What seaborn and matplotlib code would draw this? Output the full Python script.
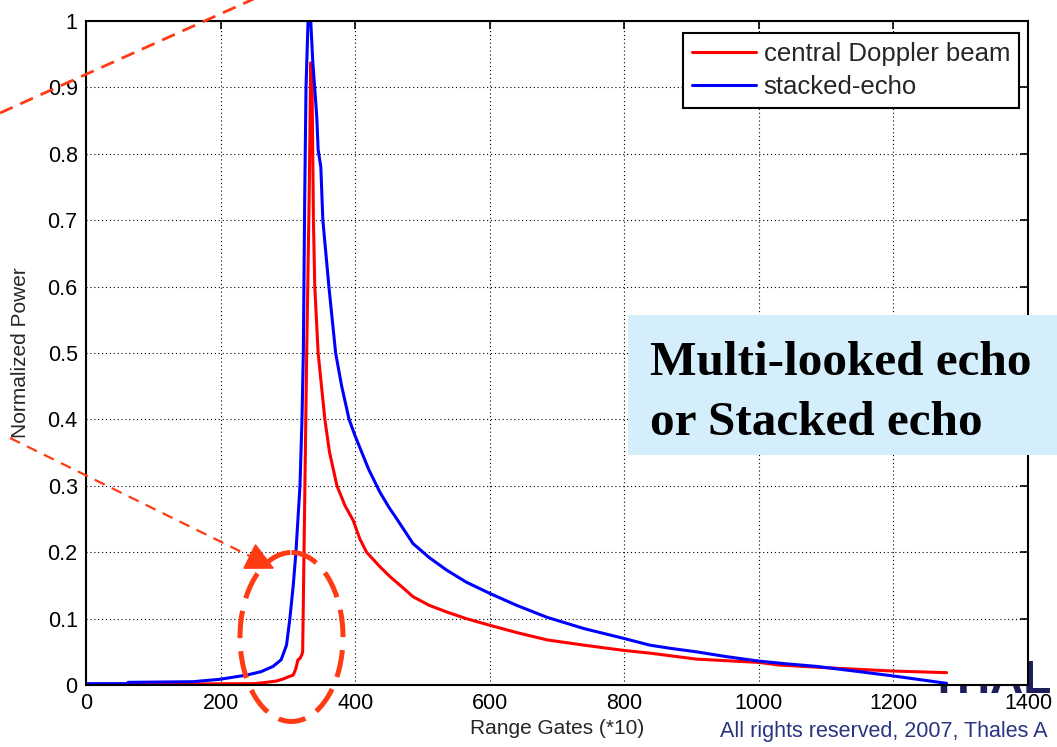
import matplotlib
matplotlib.use("Agg")
import matplotlib.pyplot as plt
import seaborn as sns
import pandas as pd
from matplotlib.patches import Ellipse, Rectangle

# values
blue_gate = [0, 60, 63, 160, 170, 199, 239, 260, 278, 290, 298, 303, 308, 312,
             318, 321, 323, 325, 327, 330, 334, 337, 343, 345, 349, 352, 361,
             371, 380, 391, 400, 410, 420, 437, 450, 462, 475, 486, 510, 536,
             565, 600, 640, 685, 740, 800, 838, 870, 907, 950, 1000, 1040,
             1086, 1150, 1200, 1240, 1279]
blue_power = [0.002, 0.002, 0.004, 0.005, 0.006, 0.0086, 0.015, 0.02, 0.028,
              0.038, 0.06, 0.10, 0.15, 0.20, 0.30, 0.40, 0.50, 0.73, 0.90,
              1.0, 1.0, 0.94, 0.855, 0.806, 0.78, 0.70, 0.60, 0.50, 0.45,
              0.40, 0.375, 0.35, 0.325, 0.29, 0.268, 0.25, 0.23, 0.213, 0.192,
              0.173, 0.155, 0.138, 0.12, 0.102, 0.085, 0.070, 0.060, 0.055,
              0.050, 0.043, 0.036, 0.032, 0.028, 0.020, 0.0136, 0.008, 0.0025]

red_gate = [0, 250, 268, 283, 293, 300, 308, 312, 315, 318, 320.5, 322, 324,
            328, 331.6, 334, 336, 337, 338, 340, 345, 350, 355, 362, 373, 385,
            397, 407, 417, 437, 452, 467, 486, 510, 536, 565, 600, 640, 685,
            740, 800, 838, 907, 1000, 1031, 1100, 1200, 1279]
red_power = [0.001, 0.002, 0.004, 0.006, 0.009, 0.012, 0.015, 0.025, 0.038,
             0.04, 0.045, 0.05, 0.20, 0.50, 0.73, 0.937, 0.90, 0.80, 0.70,
             0.60, 0.50, 0.45, 0.40, 0.35, 0.30, 0.27, 0.248, 0.22, 0.20,
             0.178, 0.163, 0.15, 0.133, 0.12, 0.110, 0.10, 0.090, 0.079,
             0.068, 0.06, 0.052, 0.048, 0.039, 0.034, 0.030, 0.026, 0.021,
             0.0186]

x_ticks = [0, 200, 400, 600, 800, 1000, 1200, 1400]
y_ticks = [0, 0.1, 0.2, 0.3, 0.4, 0.5, 0.6, 0.7, 0.8, 0.9, 1]
y_labels = ["0", "0.1", "0.2", "0.3", "0.4", "0.5", "0.6", "0.7", "0.8", "0.9", "1"]

sns.set_style("white")
plt.rcParams['font.family'] = ['Liberation Sans', 'DejaVu Sans']

W, H = 1057, 747
fig = plt.figure(figsize=(W / 100, H / 100), dpi=100)

# logo sitting behind the plot area
fig.text(930 / W, 1 - 693 / H, "THAL", fontsize=33, fontweight='bold',
         color='#1E1E5A', zorder=-1, va='baseline')

ax = fig.add_axes([86 / W, 1 - 685 / H, (1028 - 86) / W, (685 - 21) / H])
ax.patch.set_facecolor('white')

red_df = pd.DataFrame({"gate": red_gate, "power": red_power})
blue_df = pd.DataFrame({"gate": blue_gate, "power": blue_power})
sns.lineplot(data=red_df, x="gate", y="power", color='#FF0000', linewidth=2.2,
             sort=False, estimator=None, label="central Doppler beam", ax=ax)
sns.lineplot(data=blue_df, x="gate", y="power", color='#0000FF', linewidth=2.2,
             sort=False, estimator=None, label="stacked-echo", ax=ax)

ax.set_xlim(0, 1400)
ax.set_ylim(0, 1)
ax.set_xticks(x_ticks)
ax.set_yticks(y_ticks)
ax.set_yticklabels(y_labels)
ax.set_axisbelow(True)
ax.grid(True, linestyle=(0, (1, 2.5)), color='k', linewidth=0.8)
for s in ax.spines.values():
    s.set_color('k')
    s.set_linewidth(1.5)
ax.tick_params(direction='in', length=6, width=1.2, top=True, right=True,
               labelsize=15.5, colors='k', pad=6)

ax.set_xlabel("Range Gates (*10)", fontsize=15)
ax.set_ylabel("Normalized Power", fontsize=15)
ax.xaxis.set_label_coords(0.5, -0.051)
ax.yaxis.set_label_coords(-0.0594, 0.5)

leg = ax.legend(loc='upper right', bbox_to_anchor=(1019 / W, 1 - 33 / H),
                bbox_transform=fig.transFigure, borderaxespad=0, fontsize=18.5,
                frameon=True, fancybox=False, edgecolor='k', framealpha=1,
                handlelength=2.5, handletextpad=0.3, labelspacing=0.35,
                borderpad=0.35)
leg.get_frame().set_linewidth(1.5)

# overlay in pixel coordinates for the slide annotations
ov = fig.add_axes([0, 0, 1, 1], zorder=5)
ov.set_xlim(0, W)
ov.set_ylim(H, 0)
ov.axis('off')
ov.patch.set_alpha(0)

orange = '#FF3B14'
ov.add_patch(Rectangle((628, 315), W - 628 + 5, 140, facecolor='#D4EEFC',
                       edgecolor='none'))
ov.text(650, 375, "Multi-looked echo", fontsize=35.5, fontweight='bold',
        family=['Liberation Serif'], va='baseline', color='k')
ov.text(650, 435, "or Stacked echo", fontsize=35.5, fontweight='bold',
        family=['Liberation Serif'], va='baseline', color='k')

ov.plot([0, 258], [113, -3], color=orange, linewidth=2.0,
        linestyle=(0, (5, 3)))
ov.plot([10, 264], [438, 563], color=orange, linewidth=1.6,
        linestyle=(0, (5, 3.5)))
ov.annotate('', xy=(277, 570), xytext=(260, 561.6),
            arrowprops=dict(arrowstyle='-|>,head_length=0.9,head_width=0.45',
                            color=orange, lw=1.5, mutation_scale=20))
ov.add_patch(Ellipse((291.5, 637), 103, 169, fill=False, edgecolor=orange,
                     linewidth=3.6, linestyle=(0, (5.5, 2.6))))

fig.text(720 / W, 1 - 737 / H, "All rights reserved, 2007, Thales A",
         fontsize=15.5, color='#2A3580', va='baseline')

fig.savefig("out.png", dpi=100)
